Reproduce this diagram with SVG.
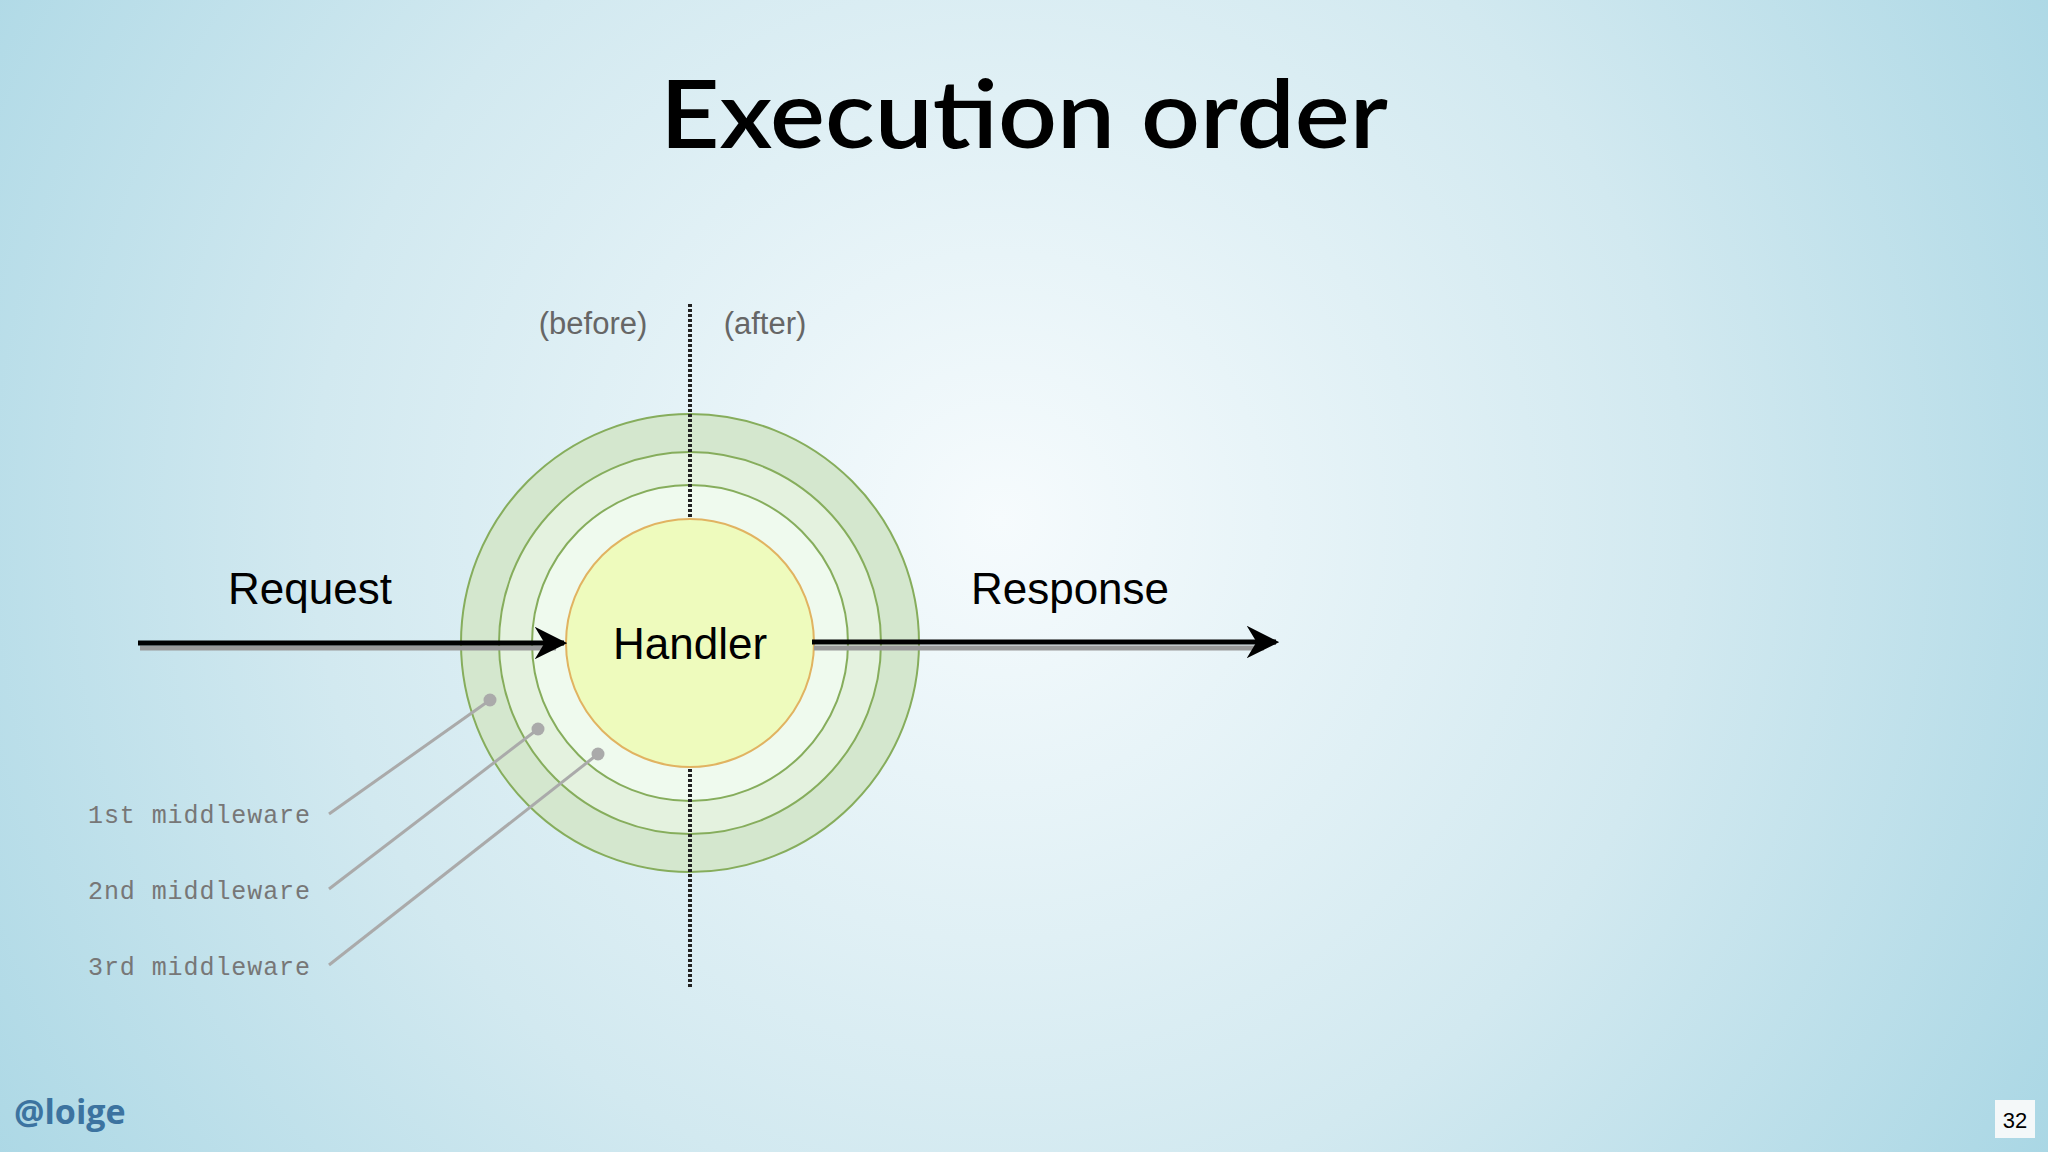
<svg xmlns="http://www.w3.org/2000/svg" width="2048" height="1152" viewBox="0 0 2048 1152">
<defs>
<radialGradient id="bg" cx="1000" cy="520" r="1250" gradientUnits="userSpaceOnUse">
<stop offset="0" stop-color="#f6fbfd"/><stop offset="0.55" stop-color="#d2e9f0"/><stop offset="1" stop-color="#a8d6e4"/>
</radialGradient>
<marker id="ah" viewBox="0 0 10 10" refX="9" refY="5" markerWidth="6.5" markerHeight="6.5" orient="auto" markerUnits="strokeWidth"><path d="M0,0 L10,5 L0,10 L3,5 Z" fill="#000"/></marker>
<style>
.ring{stroke:#86ad5c;stroke-width:2}
.lbl{font-family:"Liberation Sans",Arial,sans-serif;fill:#000}
.gray{font-family:"Liberation Sans",Arial,sans-serif;fill:#666;font-size:31px;text-anchor:middle}
.mono{font-family:"Liberation Mono","Courier New",monospace;fill:#777;font-size:25px}
.ptr{stroke:#aaa;stroke-width:3}
</style>
</defs>
<rect width="2048" height="1152" fill="url(#bg)"/>
<text x="1024" y="148" text-anchor="middle" font-family="Lato,'Open Sans',sans-serif" font-size="94" font-weight="600" fill="#000" textLength="728" lengthAdjust="spacingAndGlyphs">Execution order</text>
<g id="rings">
<circle cx="690" cy="643" r="229" fill="#d4e7ce" class="ring"/>
<circle cx="690" cy="643" r="191" fill="#e4f2df" class="ring"/>
<circle cx="690" cy="643" r="158" fill="#effaee" class="ring"/>
</g>
<g id="divider"><line x1="690" y1="304" x2="690" y2="989" stroke="#222" stroke-width="4" stroke-dasharray="3,2"/></g>
<g id="handler">
<circle cx="690" cy="643" r="124" fill="#eefbbd" stroke="#e1b361" stroke-width="2"/>
<text x="690" y="659" text-anchor="middle" class="lbl" font-size="44">Handler</text>
</g>
<text x="593" y="334" class="gray">(before)</text>
<text x="765" y="334" class="gray">(after)</text>
<g id="connectors">
<line x1="140" y1="648" x2="556" y2="648" stroke="#999" stroke-width="5"/>
<line x1="138" y1="643" x2="564" y2="643" stroke="#000" stroke-width="5" marker-end="url(#ah)"/>
<line x1="814" y1="648" x2="1264" y2="648" stroke="#999" stroke-width="5"/>
<line x1="812" y1="642" x2="1276" y2="642" stroke="#000" stroke-width="5" marker-end="url(#ah)"/>
<line x1="329" y1="814" x2="490" y2="700" class="ptr"/>
<line x1="329" y1="889" x2="538" y2="729" class="ptr"/>
<line x1="329" y1="965" x2="598" y2="754" class="ptr"/>
<circle cx="490" cy="700" r="6.5" fill="#aaa"/>
<circle cx="538" cy="729" r="6.5" fill="#aaa"/>
<circle cx="598" cy="754" r="6.5" fill="#aaa"/>
</g>
<text x="310" y="604" text-anchor="middle" class="lbl" font-size="44">Request</text>
<text x="1070" y="604" text-anchor="middle" class="lbl" font-size="44">Response</text>
<text x="88" y="823" class="mono" textLength="222">1st middleware</text>
<text x="88" y="899" class="mono" textLength="222">2nd middleware</text>
<text x="88" y="975" class="mono" textLength="222">3rd middleware</text>
<text x="14" y="1124" font-family="'Open Sans','Noto Sans',sans-serif" font-weight="bold" font-size="34" fill="#3c73a0">@loige</text>
<rect x="1995" y="1100" width="40" height="38" fill="#f4f8f9"/>
<text x="2015" y="1128" text-anchor="middle" class="lbl" font-size="22">32</text>
</svg>
